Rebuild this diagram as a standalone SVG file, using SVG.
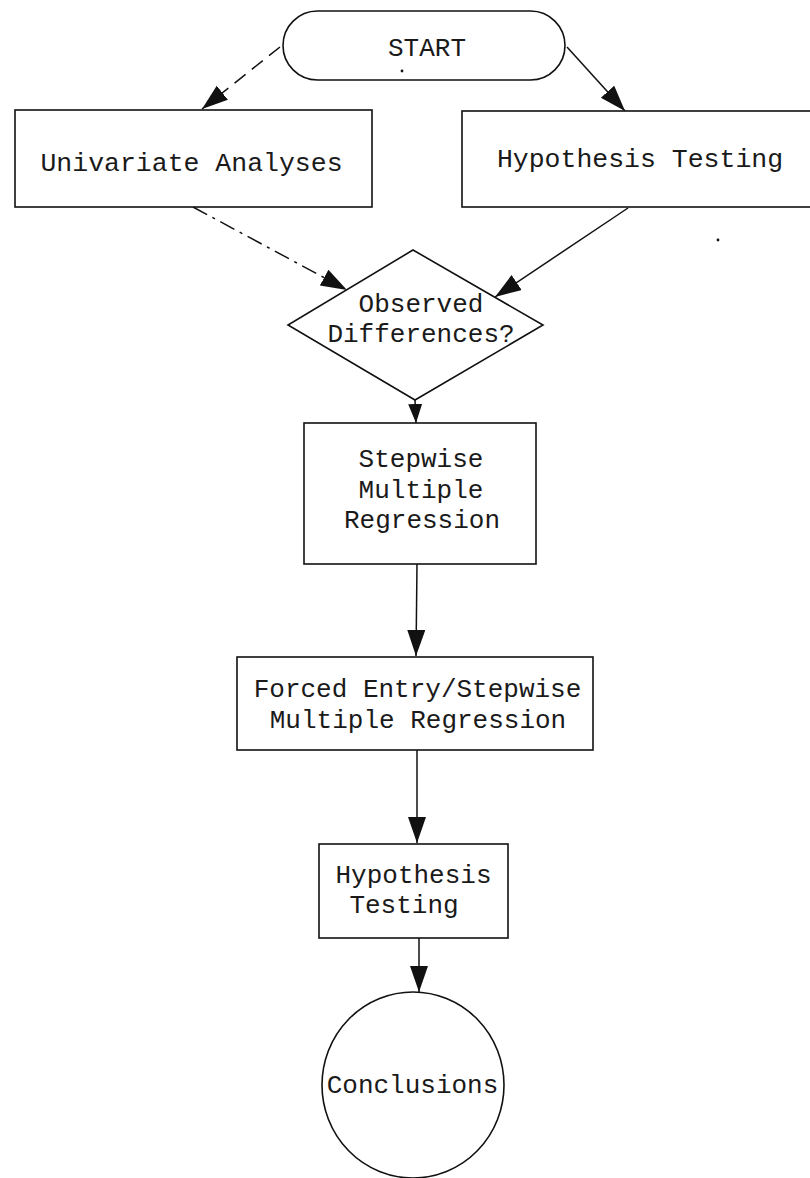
<svg xmlns="http://www.w3.org/2000/svg" width="810" height="1178" viewBox="0 0 810 1178">
  <style>
    .shape { fill: #fff; stroke: #111; stroke-width: 1.6; }
    .lbl { font-family: "Liberation Mono", "DejaVu Sans Mono", monospace; font-size: 26px; fill: #1a1a1a; text-anchor: middle; }
    .big { font-size: 26.5px; }
    .edge { fill: none; stroke: #111; stroke-width: 1.5; }
    .dash { stroke-dasharray: 14 8; }
    .dashdot { stroke-dasharray: 16 6 3 6; }
  </style>
  <defs>
    <marker id="arrow" markerUnits="userSpaceOnUse" markerWidth="28" markerHeight="20" refX="26" refY="9" orient="auto">
      <path d="M0,0 L26,9 L0,18 Z" fill="#111"/>
    </marker>
    <marker id="arrow-small" markerUnits="userSpaceOnUse" markerWidth="20" markerHeight="16" refX="19" refY="7" orient="auto">
      <path d="M0,0 L19,7 L0,14 Z" fill="#111"/>
    </marker>
  </defs>
  <rect width="810" height="1178" fill="#fff"/>

  <!-- connectors -->
  <g id="connectors">
    <line class="edge dash" x1="280" y1="47" x2="202" y2="109" marker-end="url(#arrow)"/>
    <line class="edge" x1="567" y1="47" x2="625" y2="111" marker-end="url(#arrow)"/>
    <line class="edge dashdot" x1="193" y1="207" x2="347" y2="290" marker-end="url(#arrow)"/>
    <line class="edge" x1="628" y1="208" x2="495" y2="297" marker-end="url(#arrow)"/>
    <line class="edge" x1="415" y1="400" x2="416" y2="423" marker-end="url(#arrow-small)"/>
    <line class="edge" x1="417" y1="564" x2="416" y2="656" marker-end="url(#arrow)"/>
    <line class="edge" x1="417" y1="750" x2="417" y2="843" marker-end="url(#arrow)"/>
    <line class="edge" x1="419" y1="938" x2="419" y2="992" marker-end="url(#arrow)"/>
  </g>

  <!-- start terminator -->
  <g id="start">
    <rect class="shape" x="283" y="11" width="282" height="69" rx="34.5" ry="34.5"/>
    <text class="lbl" x="427" y="56">START</text>
    <circle cx="402" cy="71" r="1.4" fill="#111"/>
  </g>

  <g id="univariate">
    <rect class="shape" x="15" y="110" width="357" height="97"/>
    <text class="lbl big" x="191.5" y="171">Univariate Analyses</text>
  </g>

  <g id="hypothesis-top">
    <rect class="shape" x="462" y="111" width="360" height="96"/>
    <text class="lbl big" x="640" y="167">Hypothesis Testing</text>
    <circle cx="718" cy="240" r="1.4" fill="#111"/>
  </g>

  <g id="decision">
    <polygon class="shape" points="413,250 543,325 415,400 288,325"/>
    <text class="lbl" x="421" y="312">Observed</text>
    <text class="lbl" x="421" y="342">Differences?</text>
  </g>

  <g id="stepwise">
    <rect class="shape" x="304" y="423" width="232" height="141"/>
    <text class="lbl" x="421" y="467">Stepwise</text>
    <text class="lbl" x="421" y="498">Multiple</text>
    <text class="lbl" x="422" y="528">Regression</text>
  </g>

  <g id="forced-entry">
    <rect class="shape" x="237" y="657" width="356" height="93"/>
    <text class="lbl" x="417.5" y="697">Forced Entry/Stepwise</text>
    <text class="lbl" x="418" y="728">Multiple Regression</text>
  </g>

  <g id="hypothesis-bottom">
    <rect class="shape" x="319" y="844" width="189" height="94"/>
    <text class="lbl" x="413.5" y="883">Hypothesis</text>
    <text class="lbl" x="404" y="913">Testing</text>
  </g>

  <g id="conclusions">
    <ellipse class="shape" cx="413" cy="1085" rx="91" ry="93"/>
    <text class="lbl" x="412.5" y="1093">Conclusions</text>
  </g>
</svg>
